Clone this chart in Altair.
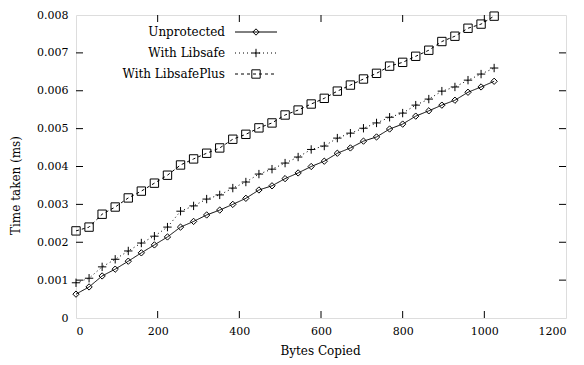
import altair as alt
import pandas as pd

bytes_copied = list(range(0, 1025, 32))
unprotected = [0.00063, 0.00082, 0.00111, 0.00129, 0.00150, 0.00172, 0.00193, 0.00214,
               0.00240, 0.00255, 0.00272, 0.00285, 0.00300, 0.00316, 0.00338, 0.00349,
               0.00368, 0.00383, 0.00400, 0.00414, 0.00435, 0.00449, 0.00467, 0.00478,
               0.00499, 0.00512, 0.00533, 0.00547, 0.00562, 0.00575, 0.00596, 0.00610,
               0.00625]
libsafe = [0.00093, 0.00105, 0.00135, 0.00155, 0.00177, 0.00198, 0.00216, 0.00240,
           0.00282, 0.00296, 0.00314, 0.00325, 0.00343, 0.00359, 0.00380, 0.00393,
           0.00409, 0.00425, 0.00445, 0.00454, 0.00475, 0.00488, 0.00501, 0.00515,
           0.00530, 0.00541, 0.00562, 0.00578, 0.00599, 0.00610, 0.00628, 0.00644,
           0.00660]
libsafeplus = [0.00230, 0.00240, 0.00274, 0.00293, 0.00317, 0.00335, 0.00356, 0.00377,
               0.00404, 0.00420, 0.00435, 0.00449, 0.00472, 0.00485, 0.00502, 0.00515,
               0.00536, 0.00549, 0.00565, 0.00580, 0.00599, 0.00615, 0.00631, 0.00646,
               0.00665, 0.00675, 0.00691, 0.00707, 0.00730, 0.00744, 0.00765, 0.00776,
               0.00797]
series_names = ["Unprotected", "With Libsafe", "With LibsafePlus"]
x_tick_values = [0, 200, 400, 600, 800, 1000, 1200]
y_tick_values = [0, 0.001, 0.002, 0.003, 0.004, 0.005, 0.006, 0.007, 0.008]

FONT = "DejaVu Serif"
W, H = 490, 303
PLUS = "M-1,0H1M0,-1V1"

series_style = {
    "Unprotected": dict(dash=[1, 0], shape="diamond", size=40),
    "With Libsafe": dict(dash=[1, 3], shape=PLUS, size=70),
    "With LibsafePlus": dict(dash=[3, 3], shape="square", size=70),
}

xscale = alt.Scale(domain=[0, 1200], nice=False, zero=False)
yscale = alt.Scale(domain=[0, 0.008], nice=False)

common_axis = dict(grid=False, ticks=False, domain=False,
                   labelFont=FONT, labelFontSize=11, labelColor="black",
                   titleFont=FONT, titleFontSize=12, titleFontWeight="normal",
                   titleColor="black")

X_ENC = alt.X("bytes:Q", scale=xscale,
              axis=alt.Axis(values=x_tick_values, title="Bytes Copied", labelPadding=7,
                            format="d", titleX=244, titleY=32, titleBaseline="middle",
                            titleAlign="center", **common_axis))
Y_ENC = alt.Y("time:Q", scale=yscale,
              axis=alt.Axis(values=y_tick_values, title="Time taken (ms)", labelPadding=8,
                            labelExpr="datum.value == 0 ? '0' : format(datum.value, '.3f')",
                            titleX=-61, titleY=170, titleAngle=-90,
                            titleAlign="center", titleBaseline="middle", **common_axis))

layers = []
for name, vals in zip(series_names, [unprotected, libsafe, libsafeplus]):
    st = series_style[name]
    d = pd.DataFrame({"bytes": bytes_copied, "time": vals})
    base = alt.Chart(d).encode(x=X_ENC, y=Y_ENC)
    layers.append(base.mark_line(color="black", strokeWidth=1, strokeDash=st["dash"]))
    layers.append(base.mark_point(color="black", filled=False, strokeWidth=1,
                                  shape=st["shape"], size=st["size"], opacity=1))

# inward ticks
ytick_df = pd.DataFrame({"time": y_tick_values[1:-1]})
xtick_df = pd.DataFrame({"bytes": x_tick_values[1:-1]})
layers.append(alt.Chart(ytick_df).mark_rule(color="black").encode(
    y=Y_ENC, x=alt.value(0), x2=alt.value(7)))
layers.append(alt.Chart(ytick_df).mark_rule(color="black").encode(
    y=Y_ENC, x=alt.value(W - 7), x2=alt.value(W)))
layers.append(alt.Chart(xtick_df).mark_rule(color="black").encode(
    x=X_ENC, y=alt.value(H - 7), y2=alt.value(H)))
layers.append(alt.Chart(xtick_df).mark_rule(color="black").encode(
    x=X_ENC, y=alt.value(0), y2=alt.value(7)))

# legend (gnuplot style: label right-aligned, sample to the right)
for i, name in enumerate(series_names):
    st = series_style[name]
    ly = 17 + i * 21
    ld = pd.DataFrame({"label": [name]})
    layers.append(alt.Chart(ld).mark_text(align="right", baseline="middle", font=FONT,
                                          fontSize=12, color="black").encode(
        text="label:N", x=alt.value(149), y=alt.value(ly)))
    layers.append(alt.Chart(ld).mark_rule(color="black", strokeWidth=1,
                                          strokeDash=st["dash"]).encode(
        x=alt.value(159), x2=alt.value(201), y=alt.value(ly)))
    layers.append(alt.Chart(ld).mark_point(color="black", filled=False, strokeWidth=1,
                                           shape=st["shape"], size=st["size"],
                                           opacity=1).encode(
        x=alt.value(180), y=alt.value(ly)))

chart = alt.layer(*layers).properties(
    width=W, height=H,
    autosize=alt.AutoSizeParams(type="none"),
    padding={"left": 68, "top": 7, "right": 10, "bottom": 40},
).configure_view(stroke="black", strokeWidth=1.2).configure(background="white")

chart.save("out.html", embed_options={"renderer": "svg", "actions": False})
